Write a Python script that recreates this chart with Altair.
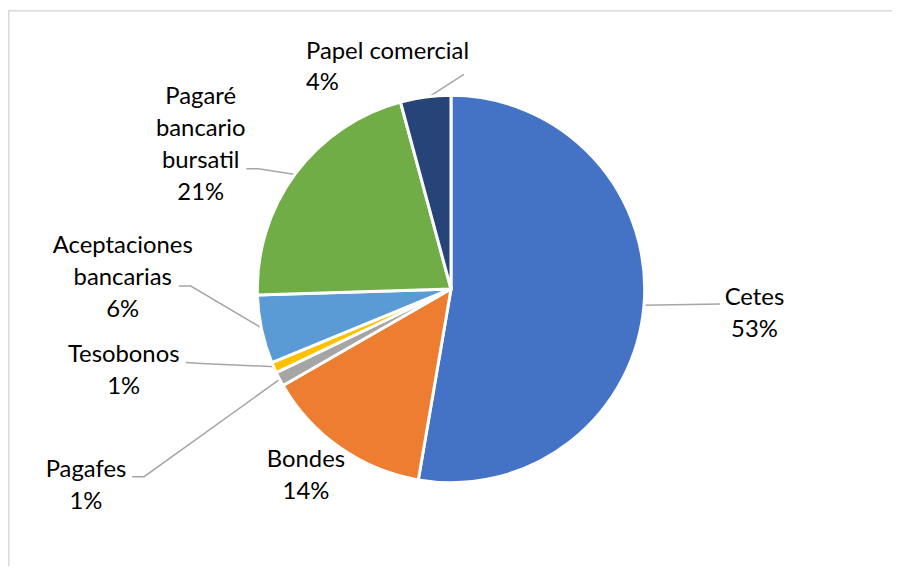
import altair as alt
import pandas as pd
import numpy as np

# ---- data ----
categories = ["Cetes", "Bondes", "Pagafes", "Tesobonos",
              "Aceptaciones bancarias", "Pagaré bancario bursatil", "Papel comercial"]
values = [52.7, 14.0, 1.2, 0.9, 5.7, 21.3, 4.2]
colors = ["#4472C4", "#ED7D31", "#A5A5A5", "#FFC000", "#5B9BD5", "#70AD47", "#264478"]

# ---- layout (chart pixel coordinates) ----
W, H = 890, 560
CX, CY, R = 446, 281, 195
label_lines = [["Cetes"], ["Bondes"], ["Pagafes"], ["Tesobonos"],
               ["Aceptaciones", "bancarias"], ["Pagaré", "bancario", "bursatil"],
               ["Papel comercial"]]
label_pos = [(751.5, 297), (300, 460), (78.5, 470), (116.5, 355),
             (115.5, 245), (194, 95), (300, 49)]
label_align = ["center", "center", "center", "center", "center", "center", "left"]
leader_pts = [[(717, 296)], [], [(137, 470), (125, 470)], [(195, 356), (179, 355)],
              [(184, 278), (172, 278)], [(252, 160), (240, 160)], [(459, 65)]]

# ---- tables ----
df = pd.DataFrame({"cat": categories, "value": values, "idx": range(len(categories))})
total = sum(values)
cum = np.cumsum(values)
mids = (cum - np.array(values) / 2) / total * 2 * np.pi

lab_rows = []
for i, c in enumerate(categories):
    txt = "\n".join(label_lines[i] + [f"{round(values[i] / total * 100)}%"])
    lab_rows.append({"cat": c, "txt": txt, "x": label_pos[i][0], "y": label_pos[i][1],
                     "align": label_align[i]})
lab = pd.DataFrame(lab_rows)

line_rows = []
for i, c in enumerate(categories):
    if not leader_pts[i]:
        continue
    sx = CX + (R - 2) * np.sin(mids[i])
    sy = CY - (R - 2) * np.cos(mids[i])
    pts = [(sx, sy)] + leader_pts[i]
    for k, (px, py) in enumerate(pts):
        line_rows.append({"cat": c, "k": k, "x": px, "y": py})
lines = pd.DataFrame(line_rows)

frame = pd.DataFrame({"a": [0]})

color_scale = alt.Scale(domain=categories, range=colors)

pie = alt.Chart(df).mark_arc(outerRadius=R, stroke="white", strokeWidth=3).encode(
    theta=alt.Theta("value:Q", stack=True),
    color=alt.Color("cat:N", scale=color_scale, legend=None),
    order=alt.Order("idx:Q"),
    x=alt.value(CX), y=alt.value(CY),
)

leaders = alt.Chart(lines).mark_line(color="#A6A6A6", strokeWidth=1.5).encode(
    x=alt.X("x:Q", scale=None),
    y=alt.Y("y:Q", scale=None),
    detail="cat:N",
    order="k:Q",
)

text_kw = dict(font="Lato", fontSize=24, lineBreak="\n", lineHeight=32,
               baseline="alphabetic", color="#000000")
labels_c = alt.Chart(lab[lab["align"] == "center"]).mark_text(align="center", **text_kw).encode(
    x=alt.X("x:Q", scale=None), y=alt.Y("y:Q", scale=None), text="txt:N")
labels_l = alt.Chart(lab[lab["align"] == "left"]).mark_text(align="left", **text_kw).encode(
    x=alt.X("x:Q", scale=None), y=alt.Y("y:Q", scale=None), text="txt:N")

top_rule = alt.Chart(frame).mark_rule(color="#D9D9D9", strokeWidth=1.5).encode(
    x=alt.value(0), x2=alt.value(W), y=alt.value(0.75))
left_rule = alt.Chart(frame).mark_rule(color="#D9D9D9", strokeWidth=1.5).encode(
    x=alt.value(0.75), y=alt.value(0), y2=alt.value(H))

chart = alt.layer(top_rule, left_rule, leaders, pie, labels_c, labels_l).properties(
    width=W, height=H, padding=0, autosize="none"
).configure_view(strokeWidth=0)

chart.save("out.html", embed_options={"renderer": "svg", "actions": False})
